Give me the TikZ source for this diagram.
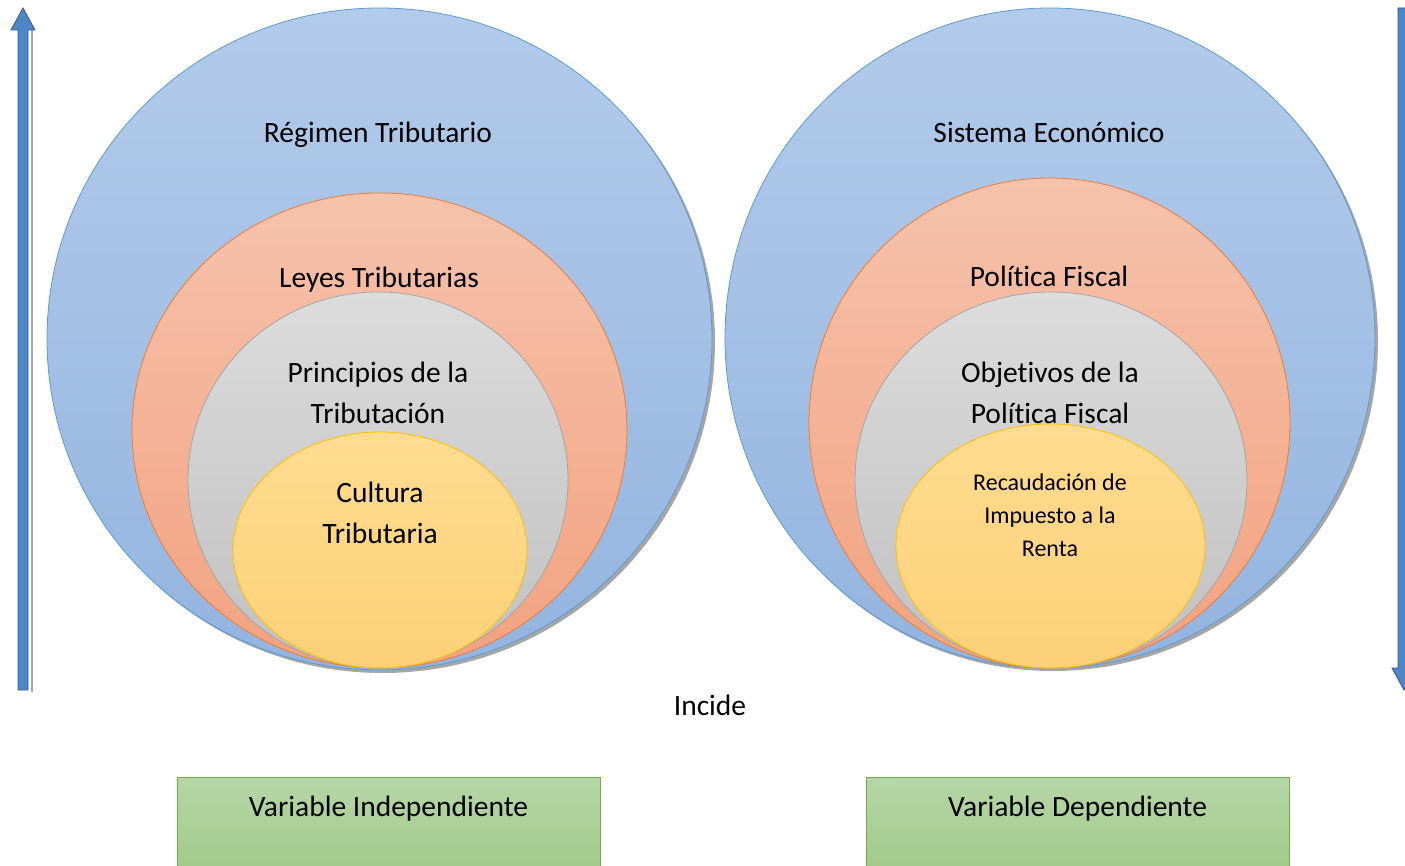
\documentclass[tikz,border=0pt]{standalone}
\usepackage{fontspec}
\setmainfont{Carlito}[Ligatures={NoCommon}]
\usetikzlibrary{shapes.geometric,shadows}
\definecolor{bluetop}{HTML}{B3CBEA}
\definecolor{bluebot}{HTML}{93B4E0}
\definecolor{blueline}{HTML}{5B9BD5}
\definecolor{orgtop}{HTML}{F6C2AC}
\definecolor{orgbot}{HTML}{F2A27F}
\definecolor{orgline}{HTML}{ED7D31}
\definecolor{graytop}{HTML}{DCDCDC}
\definecolor{graybot}{HTML}{C0C0C0}
\definecolor{grayline}{HTML}{A5A5A5}
\definecolor{yeltop}{HTML}{FFDC90}
\definecolor{yelbot}{HTML}{FDD078}
\definecolor{yelline}{HTML}{FFC000}
\definecolor{grntop}{HTML}{B6D6A7}
\definecolor{grnbot}{HTML}{9FCA88}
\definecolor{grnline}{HTML}{70AD47}
\definecolor{arrfill}{HTML}{4F86C6}
\definecolor{arrline}{HTML}{2E5A8C}
\tikzset{
  ring/.style={ellipse, inner sep=0pt, line width=0.8pt},
  bluering/.style={ring, draw=blueline, top color=bluetop, bottom color=bluebot,
    drop shadow={shadow xshift=3pt, shadow yshift=-3pt, fill=gray!70, opacity=1}},
  orgring/.style={ring, draw=orgline, top color=orgtop, bottom color=orgbot},
  grayring/.style={ring, draw=grayline, top color=graytop, bottom color=graybot},
  yelring/.style={ring, draw=yelline, top color=yeltop, bottom color=yelbot},
  lbl/.style={font=\fontsize{29.5}{41}\selectfont, align=center, inner sep=0pt},
  smalllbl/.style={font=\fontsize{24}{33}\selectfont, align=center, inner sep=0pt},
  varbox/.style={draw=grnline, line width=0.8pt, top color=grntop, bottom color=grnbot,
    minimum width=423pt, minimum height=100pt, inner sep=0pt},
  blockarrow/.style={fill=arrfill, draw=arrline, line width=0.8pt}
}
\begin{document}
\begin{tikzpicture}[x=1pt,y=-1pt]
\useasboundingbox (0,0) rectangle (1405,866);
\clip (0,0) rectangle (1405,866);
% left group
\node[bluering, minimum width=665pt, minimum height=662pt] (b1) at (379.5,339) {};
\node[orgring, minimum width=495pt, minimum height=475pt] (o1) at (379.5,430.5) {};
\node[grayring, minimum width=380pt, minimum height=376pt] (g1) at (378,480) {};
\node[yelring, minimum width=294pt, minimum height=236pt] (y1) at (380,550) {};
\node[lbl] (t1) at (378,135) {Régimen Tributario};
\node[lbl] (t2) at (379,280) {Leyes Tributarias};
\node[lbl] (t3) at (378,393) {Principios de la\\Tributación};
\node[lbl] (t4) at (380,513) {Cultura\\Tributaria};
% right group
\node[bluering, minimum width=650pt, minimum height=660pt] (b2) at (1050,338) {};
\node[orgring, minimum width=481pt, minimum height=490pt] (o2) at (1049.5,423) {};
\node[grayring, minimum width=392pt, minimum height=376pt] (g2) at (1051,480) {};
\node[yelring, minimum width=309pt, minimum height=244pt] (y2) at (1050.5,546) {};
\node[lbl] (s1) at (1049,132) {Sistema Económico};
\node[lbl] (s2) at (1049,276) {Política Fiscal};
\node[lbl] (s3) at (1050,393) {Objetivos de la\\Política Fiscal};
\node[smalllbl] (s4) at (1050,515) {Recaudación de\\Impuesto a la\\Renta};
% arrows
\fill[gray!70] (31,30) -- (31,692) -- (33,692) -- (33,30) -- cycle;
\draw[blockarrow] (18,690) -- (18,30) -- (11,30) -- (23,8) -- (35,30) -- (28,30) -- (28,690) -- cycle;
\draw[blockarrow] (1398,8) -- (1398,668) -- (1392,668) -- (1404,690) -- (1416,668) -- (1410,668) -- (1410,8) -- cycle;
% bottom
\node[lbl] (inc) at (710,705) {Incide};
\node[varbox] (v1) at (388.5,827) {};
\node[lbl] (v1t) at (388.5,809) {Variable Independiente};
\node[varbox] (v2) at (1077.5,827) {};
\node[lbl] (v2t) at (1077.5,809) {Variable Dependiente};
\end{tikzpicture}
\end{document}
